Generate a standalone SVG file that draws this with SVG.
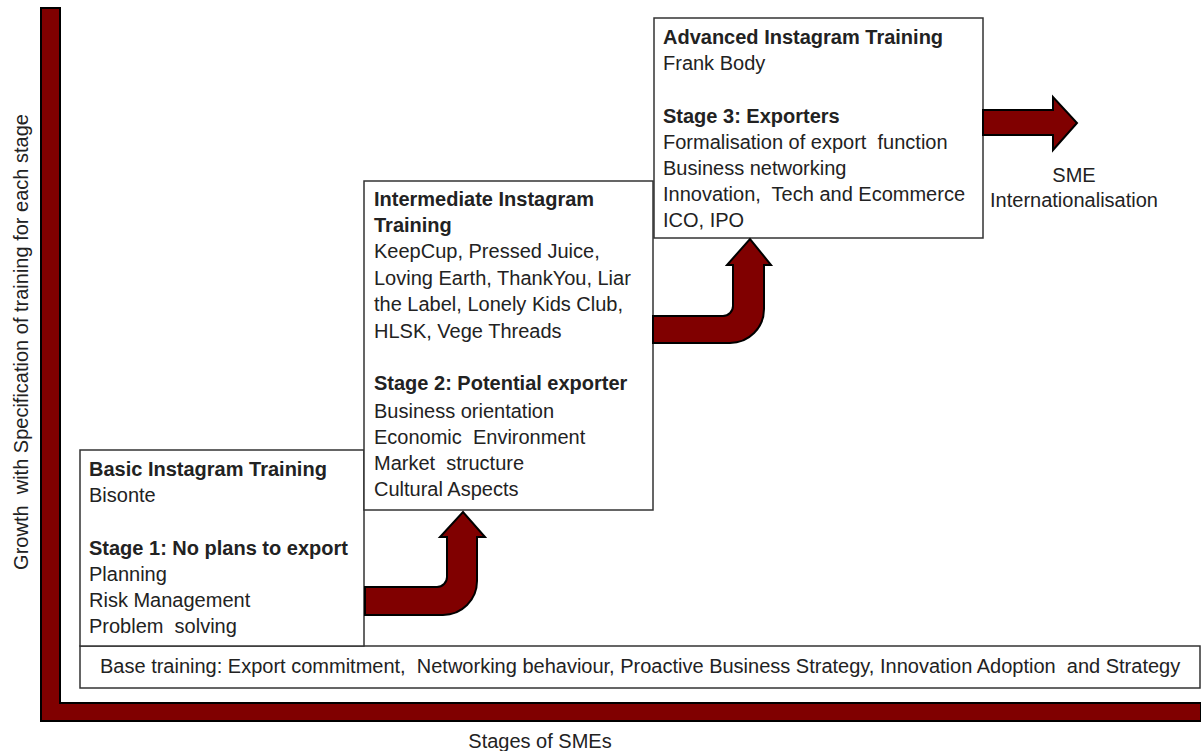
<svg xmlns="http://www.w3.org/2000/svg" width="1201" height="751" viewBox="0 0 1201 751">
<style>
text{font-family:"Liberation Sans",Arial,sans-serif;font-size:20px;fill:#222;white-space:pre}
.b{font-weight:bold}
.box{fill:#fff;stroke:#333;stroke-width:1.5}
.arr{fill:#800000;stroke:#000;stroke-width:2;stroke-linejoin:miter}
</style>
<rect width="1201" height="751" fill="#fff"/>
<g id="axes">
<polygon class="arr" points="41,8 60,8 60,703 1201,703 1201,721 41,721"/>
<text transform="translate(28,342) rotate(-90)" text-anchor="middle" xml:space="preserve">Growth  with Specification of training for each stage</text>
<text x="540" y="748" text-anchor="middle">Stages of SMEs</text>
</g>
<g id="box-base">
<rect class="box" x="80" y="646" width="1120" height="42"/>
<text x="100" y="673" xml:space="preserve">Base training: Export commitment,  Networking behaviour, Proactive Business Strategy, Innovation Adoption  and Strategy</text>
</g>
<g id="box-basic">
<rect class="box" x="80" y="450" width="284" height="196"/>
<text x="89" y="476" class="b">Basic Instagram Training</text>
<text x="89" y="502">Bisonte</text>
<text x="89" y="555" class="b">Stage 1: No plans to export</text>
<text x="89" y="581">Planning</text>
<text x="89" y="607">Risk Management</text>
<text x="89" y="633" xml:space="preserve">Problem  solving</text>
</g>
<g id="box-intermediate">
<rect class="box" x="364" y="181" width="289" height="329"/>
<text x="374" y="206" class="b">Intermediate Instagram</text>
<text x="374" y="232" class="b">Training</text>
<text x="374" y="258">KeepCup, Pressed Juice,</text>
<text x="374" y="285">Loving Earth, ThankYou, Liar</text>
<text x="374" y="311">the Label, Lonely Kids Club,</text>
<text x="374" y="338">HLSK, Vege Threads</text>
<text x="374" y="390" class="b">Stage 2: Potential exporter</text>
<text x="374" y="418">Business orientation</text>
<text x="374" y="444" xml:space="preserve">Economic  Environment</text>
<text x="374" y="470" xml:space="preserve">Market  structure</text>
<text x="374" y="496">Cultural Aspects</text>
</g>
<g id="box-advanced">
<rect class="box" x="654" y="18" width="329" height="220"/>
<text x="663" y="44" class="b">Advanced Instagram Training</text>
<text x="663" y="70">Frank Body</text>
<text x="663" y="123" class="b">Stage 3: Exporters</text>
<text x="663" y="149" xml:space="preserve">Formalisation of export  function</text>
<text x="663" y="175">Business networking</text>
<text x="663" y="201" xml:space="preserve">Innovation,  Tech and Ecommerce</text>
<text x="663" y="227">ICO, IPO</text>
</g>
<g id="connectors">
<path class="arr" d="M365,587 H437 A10,10 0 0 0 447,577 V537 H440 L463,512 L485,537 H477 V581 A34,34 0 0 1 443,615 H365 Z"/>
<path class="arr" d="M653,316 H723 A10,10 0 0 0 733,306 V265 H727 L750,239 L771,265 H764 V309 A34,34 0 0 1 730,343 H653 Z"/>
<path class="arr" d="M983,110 H1053 V97 L1077,123 L1053,150 V135 H983 Z"/>
</g>
<g id="label-sme">
<text x="1074" y="182" text-anchor="middle">SME</text>
<text x="1074" y="207" text-anchor="middle">Internationalisation</text>
</g>
</svg>
